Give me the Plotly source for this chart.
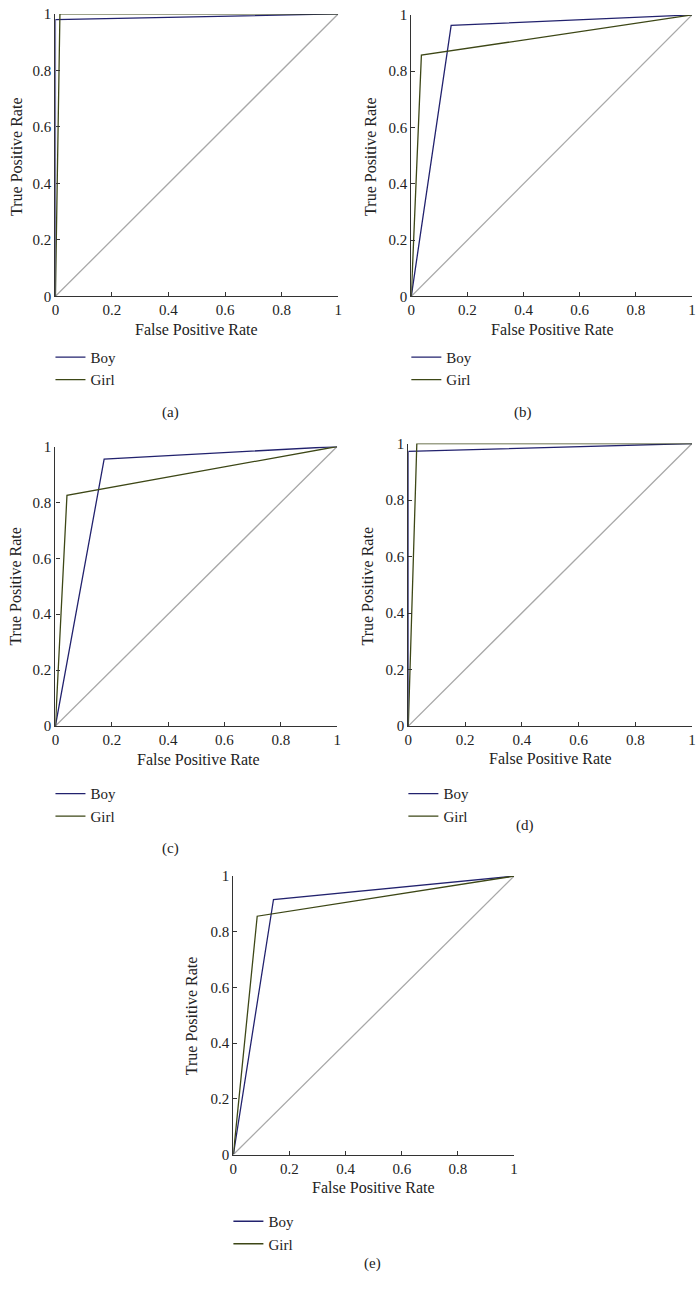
import plotly.graph_objects as go

W, H = 699, 1292

# ---- data ----
panels = ["(a)", "(b)", "(c)", "(d)", "(e)"]
boy_fpr = [[0, 0, 1], [0, 0.142, 1], [0, 0.173, 1], [0, 0, 1], [0, 0.143, 1]]
boy_tpr = [[0, 0.98, 1], [0, 0.963, 1], [0, 0.955, 1], [0, 0.972, 1], [0, 0.916, 1]]
girl_fpr = [[0, 0.016, 1], [0, 0.036, 1], [0, 0.041, 1], [0, 0.03, 1], [0, 0.085, 1]]
girl_tpr = [[0, 1, 1], [0, 0.857, 1], [0, 0.825, 1], [0, 1, 1], [0, 0.856, 1]]
diag = [0, 1]
tick_vals = [0, 0.2, 0.4, 0.6, 0.8, 1]
tick_text = ["0", "0.2", "0.4", "0.6", "0.8", "1"]
series_names = ["Boy", "Girl"]
x_title = "False Positive Rate"
y_title = "True Positive Rate"

BOY_C = "#22226e"
GIRL_C = "#3d4716"
DIAG_C = "#a8a8a8"
AX_C = "#333333"
TXT_C = "#222222"
FONT = "Liberation Serif"

# ---- layout geometry (pixels) ----
boxes = [(52, 338, 6, 292), (412, 696, 7, 292), (52, 337, 444, 727),
         (409, 696, 441, 727), (232, 516, 879, 1161)]
legend_pos = [(47, 337), (407, 337), (47, 779), (404, 779), (227, 1212)]
caption_pos = [(168, 410), (525, 410), (168, 851), (527, 828), (373, 1271)]
xtitle_pos = [(195, 326), (555, 326), (197, 761), (553, 760), (374, 1194)]
ytitle_pos = [(12, 150), (370, 150), (12, 585), (368, 585), (190, 1020)]


def px(x):
    return x / W


def py(y):
    return 1 - y / H


fig = go.Figure()
layout = dict(
    width=W, height=H, margin=dict(l=0, r=0, t=0, b=0),
    paper_bgcolor="white", plot_bgcolor="white",
    font=dict(family=FONT, size=15, color=TXT_C),
    annotations=[],
)


def ann(text, x, y, size, angle=0):
    return dict(text=text, x=px(x), y=py(y), xref="paper", yref="paper",
                showarrow=False, xanchor="center", yanchor="middle",
                textangle=angle, font=dict(family=FONT, size=size, color=TXT_C))


for i in range(5):
    n = "" if i == 0 else str(i + 1)
    xa, ya = "x" + n, "y" + n
    leg = "legend" if i == 0 else "legend" + str(i + 1)
    fig.add_trace(go.Scatter(x=diag, y=diag, mode="lines", xaxis=xa, yaxis=ya,
                             line=dict(color=DIAG_C, width=1.3), showlegend=False,
                             hoverinfo="skip", cliponaxis=False))
    fig.add_trace(go.Scatter(x=boy_fpr[i], y=boy_tpr[i], mode="lines", name=series_names[0],
                             xaxis=xa, yaxis=ya, legend=leg, cliponaxis=False,
                             line=dict(color=BOY_C, width=1.3)))
    fig.add_trace(go.Scatter(x=girl_fpr[i], y=girl_tpr[i], mode="lines", name=series_names[1],
                             xaxis=xa, yaxis=ya, legend=leg, cliponaxis=False,
                             line=dict(color=GIRL_C, width=1.3)))
    l, r, t, b = boxes[i]
    axis_common = dict(range=[0, 1], tickvals=tick_vals, ticktext=tick_text,
                       showgrid=False, zeroline=False, showline=True,
                       linecolor=AX_C, linewidth=1.2, ticks="inside", ticklen=4,
                       tickcolor=AX_C, tickwidth=1, mirror=False,
                       tickfont=dict(family=FONT, size=15, color=TXT_C))
    layout["xaxis" + n] = dict(axis_common, domain=[px(l), px(r)], anchor=ya)
    layout["yaxis" + n] = dict(axis_common, domain=[py(b), py(t)], anchor=xa)
    lx, ly = legend_pos[i]
    layout[leg] = dict(x=px(lx), y=py(ly), xanchor="left", yanchor="top",
                       bgcolor="rgba(0,0,0,0)", font=dict(family=FONT, size=15, color=TXT_C),
                       tracegroupgap=0, itemwidth=30)
    cx, cy = caption_pos[i]
    layout["annotations"].append(ann(panels[i], cx, cy, 15))
    tx, ty = xtitle_pos[i]
    layout["annotations"].append(ann(x_title, tx, ty, 16))
    tx, ty = ytitle_pos[i]
    layout["annotations"].append(ann(y_title, tx, ty, 16, -90))

fig.update_layout(**layout)
fig.write_html("out.html", config={"displayModeBar": False},
               post_script="document.body.style.margin='0';")
